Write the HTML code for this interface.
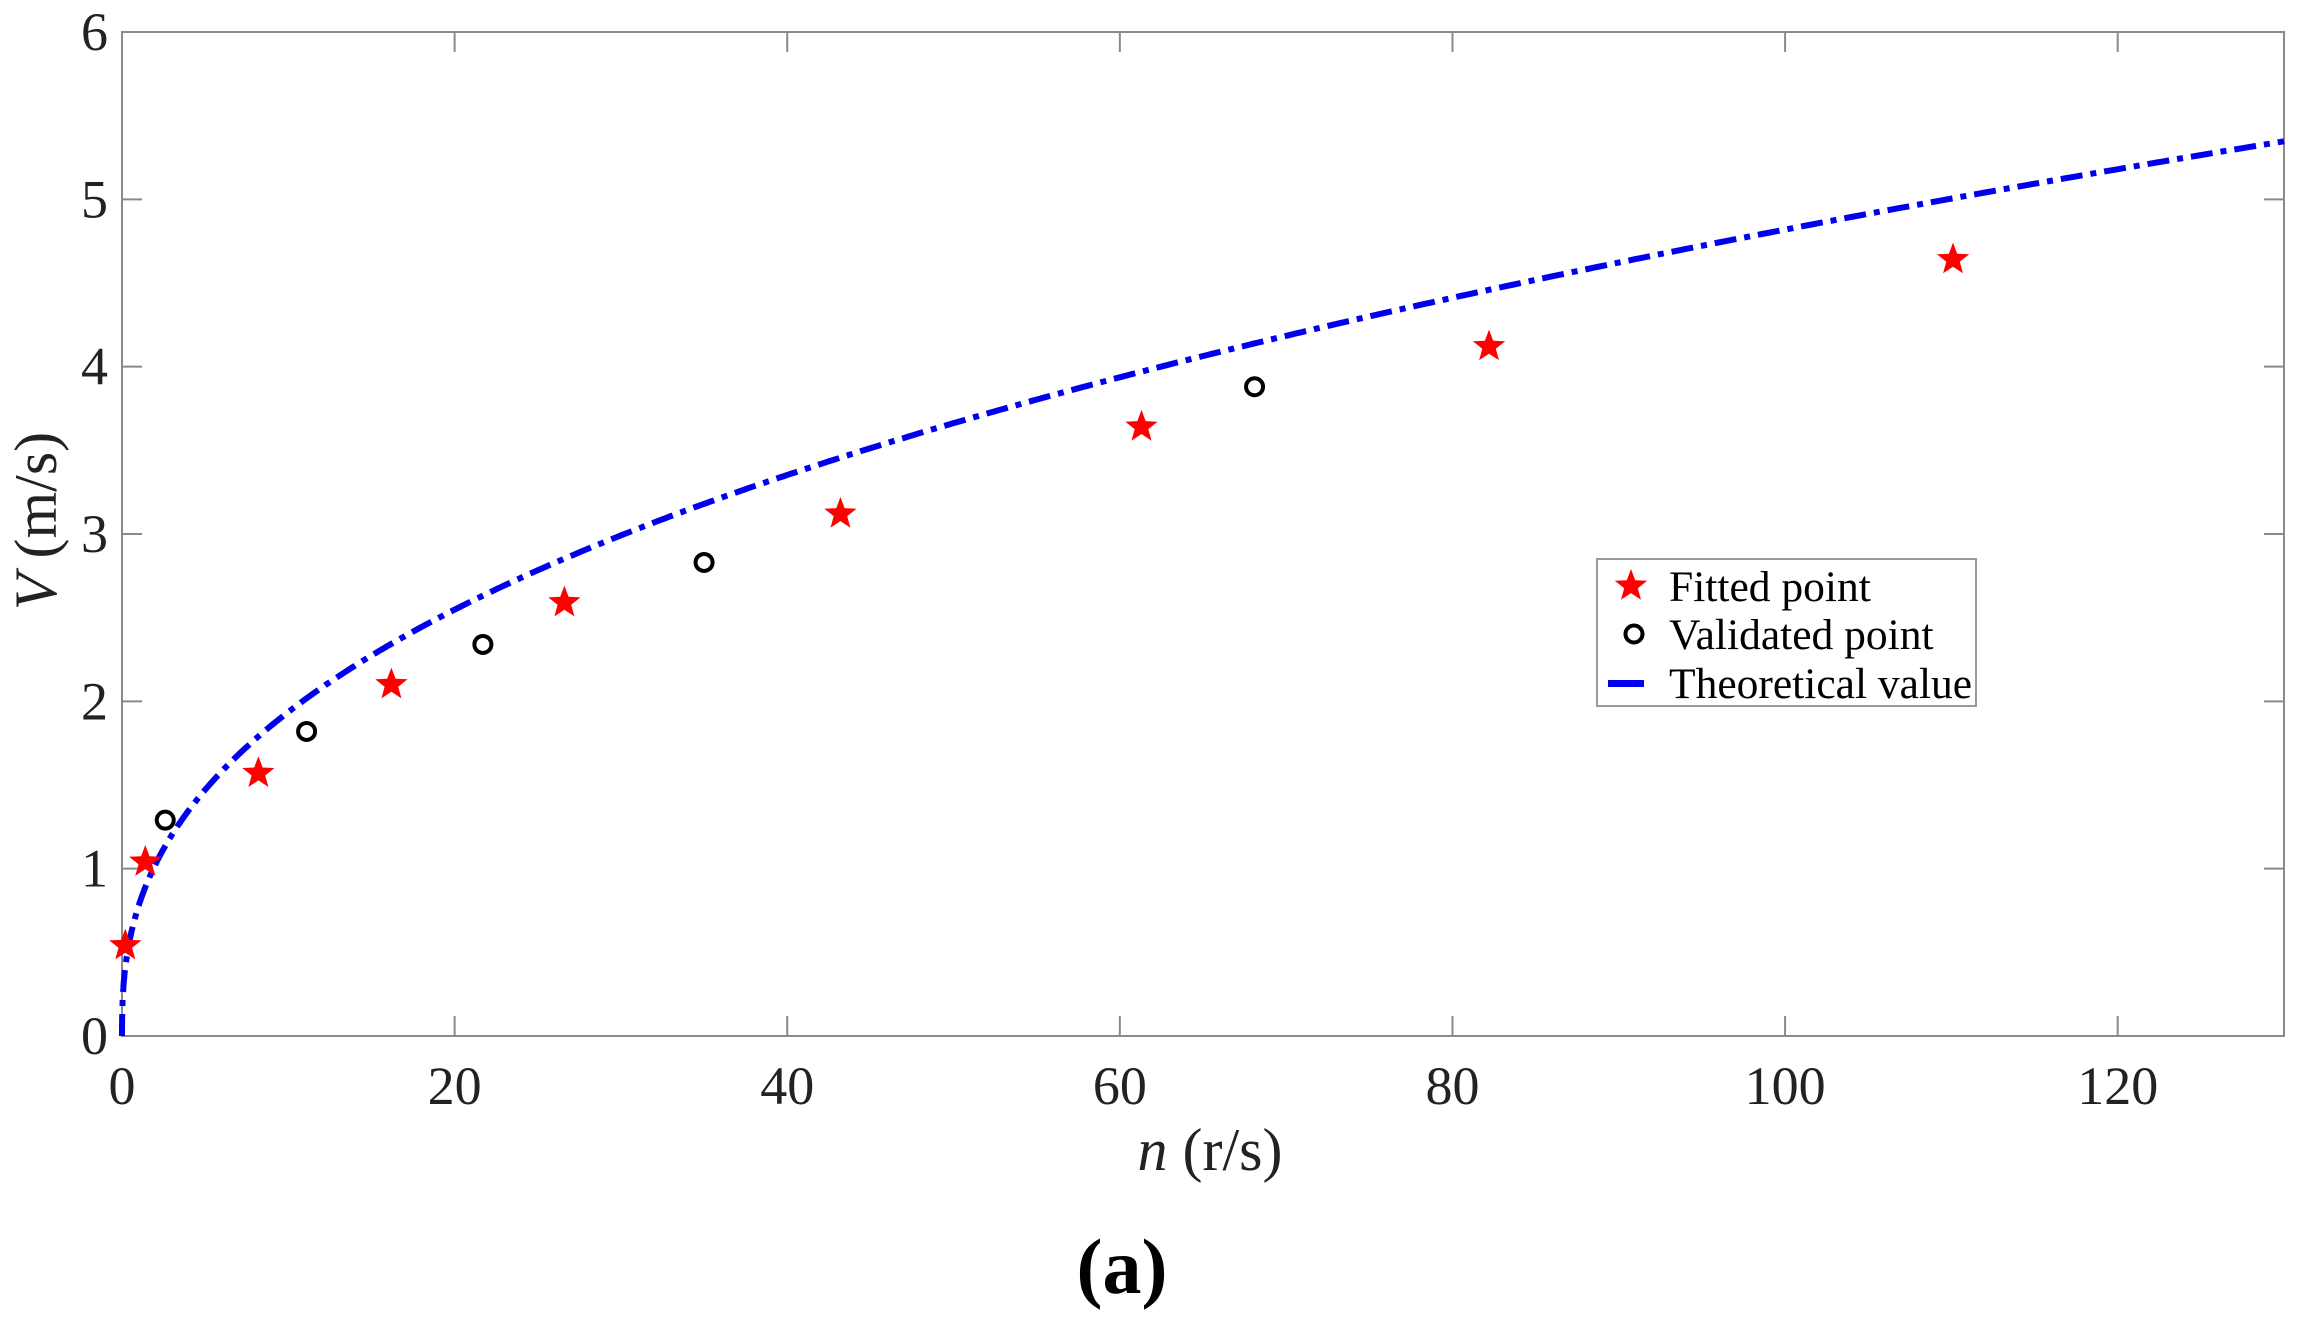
<!DOCTYPE html>
<html><head><meta charset="utf-8"><style>html,body{margin:0;padding:0;background:#fff}svg{display:block}text{font-family:"Liberation Serif",serif;fill:#222}</style></head>
<body>
<svg id="s" width="2300" height="1323" viewBox="0 0 2300 1323" xmlns="http://www.w3.org/2000/svg">
<rect x="122" y="32" width="2162" height="1004" fill="none" stroke="#8a8a8a" stroke-width="2"/>
<g id="ticks" stroke="#8a8a8a" stroke-width="2"></g>
<g font-size="54" text-anchor="end" id="yl"></g>
<g font-size="54" text-anchor="middle" id="xl"></g>
<path id="curve" fill="none" stroke="#0000ee" stroke-width="6" stroke-dasharray="22,8,6,8"/>
<g id="pts"></g>
<text x="1210" y="1170" font-size="60" text-anchor="middle"><tspan font-style="italic">n</tspan> (r/s)</text>
<text transform="translate(56,521) rotate(-90)" font-size="60" text-anchor="middle"><tspan font-style="italic">V</tspan> (m/s)</text>
<text x="1122" y="1293" font-size="78" font-weight="bold" text-anchor="middle" style="fill:#000">(a)</text>
<rect x="1597" y="559" width="379" height="147" fill="#fff" stroke="#999" stroke-width="2"/>
<text x="1669" y="601" font-size="43.5" style="fill:#000">Fitted point</text>
<text x="1669" y="649" font-size="43.5" style="fill:#000">Validated point</text>
<text x="1669" y="698" font-size="43.5" style="fill:#000">Theoretical value</text>
<rect x="1608" y="680" width="36" height="7" fill="#0000ee"/>
<g id="leg"></g>
</svg>
<script>
const NS="http://www.w3.org/2000/svg";
const X=n=>122+n*2162/130, Y=v=>1036-v*1004/6;
function el(t,a,p){const e=document.createElementNS(NS,t);for(const k in a)e.setAttribute(k,a[k]);document.getElementById(p).appendChild(e);return e;}
for(let n=0;n<=120;n+=20){const x=X(n);el('line',{x1:x,y1:1036,x2:x,y2:1016},'ticks');el('line',{x1:x,y1:32,x2:x,y2:52},'ticks');
 el('text',{x:x,y:1104},'xl').textContent=n;}
for(let v=0;v<=6;v++){const y=Y(v);el('line',{x1:122,y1:y,x2:142,y2:y},'ticks');el('line',{x1:2284,y1:y,x2:2264,y2:y},'ticks');
 el('text',{x:108,y:y+18},'yl').textContent=v;}
let d="";for(let i=0;i<=600;i++){const n=130*Math.pow(i/600,2);const v=0.778*Math.pow(n,0.396);d+=(i?"L":"M")+X(n).toFixed(1)+","+Y(v).toFixed(1);}
document.getElementById('curve').setAttribute('d',d);
function star(cx,cy,r,p){let s="";for(let i=0;i<10;i++){const a=-Math.PI/2+i*Math.PI/5;const rr=i%2?r*0.42:r;s+=(cx+rr*Math.cos(a)).toFixed(1)+","+(cy+rr*Math.sin(a)).toFixed(1)+" ";}
 el('polygon',{points:s,fill:'#ff0000'},p);}
[[0.2,.54],[1.4,1.04],[8.2,1.57],[16.2,2.10],[26.6,2.59],[43.2,3.12],[61.3,3.64],[82.2,4.12],[110.1,4.64]].forEach(p=>star(X(p[0]),Y(p[1]),17,'pts'));
[[2.6,1.29],[11.1,1.82],[21.7,2.34],[35.0,2.83],[68.1,3.88]].forEach(p=>el('circle',{cx:X(p[0]),cy:Y(p[1]),r:8.5,fill:'none',stroke:'#000','stroke-width':4},'pts'));
star(1631,586,17,'leg');el('circle',{cx:1634,cy:634,r:8.5,fill:'none',stroke:'#000','stroke-width':4},'leg');
</script>
</body></html>
